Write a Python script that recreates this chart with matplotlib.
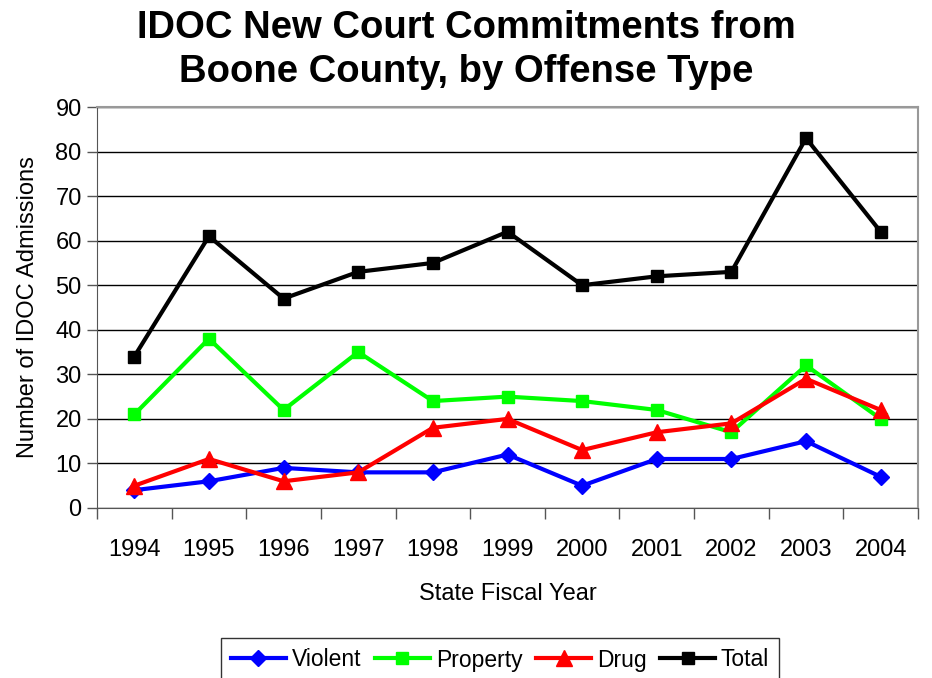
import numpy as np
import matplotlib
matplotlib.use('Agg')
import matplotlib.pyplot as plt

plt.rcParams['font.family'] = ['Liberation Sans', 'DejaVu Sans']

years = ['1994', '1995', '1996', '1997', '1998', '1999', '2000', '2001', '2002', '2003', '2004']
violent = [4, 6, 9, 8, 8, 12, 5, 11, 11, 15, 7]
property_ = [21, 38, 22, 35, 24, 25, 24, 22, 17, 32, 20]
drug = [5, 11, 6, 8, 18, 20, 13, 17, 19, 29, 22]
total = [34, 61, 47, 53, 55, 62, 50, 52, 53, 83, 62]

fig = plt.figure(figsize=(9.32, 6.78), dpi=100)
ax = fig.add_axes([97 / 932, 1 - 508 / 678, 821 / 932, 401 / 678])

x = np.arange(len(years))
ax.plot(x, violent, '-D', color='#0000ff', lw=3, ms=8, label='Violent')
ax.plot(x, property_, '-s', color='#00ff00', lw=3, ms=9, label='Property')
ax.plot(x, drug, '-^', color='#ff0000', lw=3, ms=11, label='Drug')
ax.plot(x, total, '-s', color='#000000', lw=3, ms=8, label='Total')

ax.set_xlim(-0.5, len(years) - 0.5)
ax.set_ylim(0, 90)
ax.set_yticks(np.arange(0, 91, 10))
ax.yaxis.grid(True, color='black', lw=1)
ax.set_axisbelow(True)

# category labels centred, tick marks between categories
ax.set_xticks(x)
ax.set_xticklabels(years)
ax.set_xticks(np.arange(-0.5, len(years), 1), minor=True)
ax.tick_params(axis='x', which='major', length=0, pad=22, labelsize=17)
ax.tick_params(axis='x', which='minor', length=8, width=1, color='#555555')
ax.tick_params(axis='y', length=7, width=1, labelsize=17, color='#555555', pad=4)

for side in ['top', 'right']:
    ax.spines[side].set_color('#999999')
    ax.spines[side].set_linewidth(1.5)
ax.spines['left'].set_color('#555555')
ax.spines['bottom'].set_color('#555555')

ax.set_xlabel('State Fiscal Year', fontsize=17, labelpad=16)
ax.set_ylabel('Number of IDOC Admissions', fontsize=17, labelpad=12)

fig.text(0.5, 1 - 50 / 678, 'IDOC New Court Commitments from\nBoone County, by Offense Type',
         ha='center', va='center', fontsize=27.5, fontweight='bold', linespacing=1.25)

leg = fig.legend(loc='center', bbox_to_anchor=(500 / 932, 1 - 660 / 678), ncol=4,
                 fontsize=16.5, frameon=True, fancybox=False, edgecolor='black',
                 handlelength=2.4, handletextpad=0.25, columnspacing=0.6,
                 borderpad=0.45, borderaxespad=0)
leg.get_frame().set_linewidth(1)

fig.savefig('out.png', dpi=100)
